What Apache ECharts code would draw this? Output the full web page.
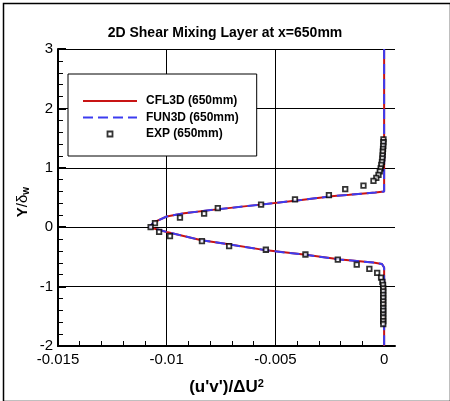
<!DOCTYPE html>
<html>
<head>
<meta charset="utf-8">
<script src="https://cdn.jsdelivr.net/npm/echarts@6/dist/echarts.min.js"></script>
<style>html,body{margin:0;padding:0;background:#fff}#c{width:450px;height:401px}</style>
</head>
<body>
<div id="c"></div>
<script>
var titleText = '2D Shear Mixing Layer at x=650mm';
var seriesNames = ['CFL3D (650mm)', 'FUN3D (650mm)', 'EXP (650mm)'];
var xTickValues = [-0.015,-0.014,-0.013,-0.012,-0.011,-0.01,-0.009,-0.008,-0.007,-0.006,-0.005,-0.004,-0.003,-0.002,-0.001,0];
var xLabelValues = [-0.015, -0.01, -0.005, 0];

var cfl3d = [
  [0,3],[0,0.6],[-0.0004,0.585],[-0.0016,0.545],[-0.0023,0.525],[-0.004,0.45],[-0.0057,0.38],
  [-0.0077,0.30],[-0.0092,0.235],[-0.0100,0.18],[-0.0106,0.08],[-0.0108,0.0],[-0.0100,-0.08],
  [-0.0084,-0.22],[-0.0073,-0.28],[-0.0054,-0.39],[-0.0036,-0.465],[-0.0020,-0.545],
  [-0.0005,-0.595],[-0.0001,-0.62],[0,-0.68],[0,-2]
];
var fun3d = [
  [0,3],[0,0.6],[-0.0004,0.585],[-0.0016,0.545],[-0.0023,0.525],[-0.004,0.45],[-0.0057,0.38],
  [-0.0077,0.30],[-0.0092,0.235],[-0.0100,0.18],[-0.0106,0.08],[-0.0108,0.0],[-0.0100,-0.08],
  [-0.0084,-0.22],[-0.0073,-0.28],[-0.0054,-0.39],[-0.0036,-0.465],[-0.0020,-0.545],
  [-0.0005,-0.595],[-0.0001,-0.62],[0,-0.68],[0,-2]
];
var expData = [
  [-0.00003,1.48],[-0.00003,1.43],[-0.00004,1.37],[-0.00005,1.32],[-0.00006,1.27],[-0.00007,1.21],
  [-0.00008,1.16],[-0.0001,1.10],[-0.00013,1.05],[-0.00016,0.99],[-0.0002,0.94],[-0.00026,0.88],
  [-0.00036,0.83],[-0.00049,0.78],[-0.00095,0.70],[-0.00179,0.64],[-0.00254,0.54],[-0.0041,0.47],
  [-0.00566,0.38],[-0.00765,0.32],[-0.00828,0.23],[-0.00939,0.16],[-0.01054,0.07],[-0.01074,0.0],
  [-0.01035,-0.08],[-0.00985,-0.15],[-0.00838,-0.235],[-0.00713,-0.32],[-0.00544,-0.38],
  [-0.00362,-0.46],[-0.00213,-0.545],[-0.00126,-0.63],[-0.00068,-0.70],[-0.00032,-0.77],
  [-0.00014,-0.85],[-0.00008,-0.92],[-0.00005,-0.97],[-0.00004,-1.03],[-0.00004,-1.08],
  [-0.00004,-1.14],[-0.00004,-1.19],[-0.00004,-1.25],[-0.00004,-1.30],[-0.00004,-1.36],
  [-0.00004,-1.41],[-0.00004,-1.47],[-0.00004,-1.52],[-0.00004,-1.58],[-0.00004,-1.63]
];

var chart = echarts.init(document.getElementById('c'), null, {renderer: 'canvas'});
var FONT = 'Liberation Sans, Arial, Helvetica, sans-serif';
chart.setOption({
  backgroundColor: '#fff',
  animation: false,
  textStyle: {fontFamily: FONT},
  title: {
    text: titleText, left: 'center', top: 21,
    textStyle: {fontSize: 14, fontWeight: 'bold', color: '#000', fontFamily: FONT}
  },
  graphic: [{
    type: 'rect', left: 1, top: 1, silent: true,
    shape: {width: 447, height: 398},
    style: {fill: 'none', stroke: '#000', lineWidth: 1.5}
  }, {
    type: 'text', x: 23, y: 202, rotation: Math.PI / 2, silent: true,
    style: {
      text: '{a|Y}{c|/δ}{b|w}', align: 'center', verticalAlign: 'middle',
      rich: {
        a: {fontSize: 15, fontWeight: 'bold', fill: '#000', fontFamily: FONT},
        c: {fontSize: 15, fontWeight: 'normal', fill: '#000', fontFamily: FONT},
        b: {fontSize: 10, fontWeight: 'bold', fill: '#000', fontFamily: FONT, verticalAlign: 'bottom', padding: [6,0,0,0]}
      }
    }
  }],
  legend: {
    orient: 'vertical', left: 68, top: 74,
    padding: [21, 18, 16, 14],
    itemWidth: 54, itemHeight: 10, itemGap: 4.5,
    backgroundColor: '#fff', borderColor: '#000', borderWidth: 1, borderRadius: 0,
    textStyle: {fontSize: 12, fontWeight: 'bold', color: '#000', fontFamily: FONT, padding: [0,0,0,4]},
    data: [
      {name: seriesNames[0], itemStyle: {opacity: 0, color: 'rgba(0,0,0,0)', borderWidth: 0}},
      {name: seriesNames[1], itemStyle: {opacity: 0, color: 'rgba(0,0,0,0)', borderWidth: 0}},
      {name: seriesNames[2], icon: 'path://M0,0M54,10M24.5,2.5h5v5h-5z',
       itemStyle: {color: '#fff', borderColor: '#000', borderWidth: 1.8}}
    ]
  },
  grid: {left: 58, right: 55, top: 49, bottom: 46, containLabel: false},
  xAxis: {
    type: 'value', min: -0.015, max: 0.0005, interval: 0.001,
    name: "{a|(u'v')/ΔU}{b|2}", nameLocation: 'middle', nameGap: 32,
    nameTextStyle: {
      rich: {
        a: {fontSize: 17, fontWeight: 'bold', color: '#000', fontFamily: FONT},
        b: {fontSize: 11, fontWeight: 'bold', color: '#000', fontFamily: FONT, verticalAlign: 'top', padding: [0,0,8,0]}
      }
    },
    axisLine: {show: true, onZero: false, lineStyle: {color: '#000', width: 2}},
    axisTick: {show: true, inside: true, length: 5, customValues: xTickValues, lineStyle: {color: '#000', width: 1}},
    axisLabel: {show: true, customValues: xLabelValues, fontSize: 15, color: '#000', margin: 6, fontFamily: FONT},
    splitLine: {show: true, showMaxLine: false, lineStyle: {color: ['#000','rgba(0,0,0,0)','rgba(0,0,0,0)','rgba(0,0,0,0)','rgba(0,0,0,0)'], width: 1}}
  },
  yAxis: {
    type: 'value', min: -2, max: 3, interval: 1,
    axisLine: {show: true, onZero: false, lineStyle: {color: '#000', width: 2}},
    axisTick: {show: true, inside: true, length: 8, lineStyle: {color: '#000', width: 2}},
    minorTick: {show: true, splitNumber: 5, length: 5, lineStyle: {color: '#000', width: 1}},
    axisLabel: {fontSize: 15, color: '#000', margin: 5, fontFamily: FONT},
    splitLine: {show: true, lineStyle: {color: '#000', width: 1}}
  },
  series: [
    {
      name: seriesNames[0], type: 'line', data: cfl3d, symbol: 'none', smooth: false,
      lineStyle: {color: '#c81414', width: 2}, itemStyle: {color: '#c81414'}, z: 2
    },
    {
      name: seriesNames[1], type: 'line', data: fun3d, symbol: 'none', smooth: false,
      lineStyle: {color: '#3c3cf0', width: 2, type: [10, 5]}, itemStyle: {color: '#3c3cf0'}, z: 3
    },
    {
      name: seriesNames[2], type: 'scatter', data: expData, symbol: 'rect', symbolSize: 4.5,
      itemStyle: {color: '#fff', borderColor: '#000', borderWidth: 1.8}, z: 4
    }
  ]
});
</script>
</body>
</html>
